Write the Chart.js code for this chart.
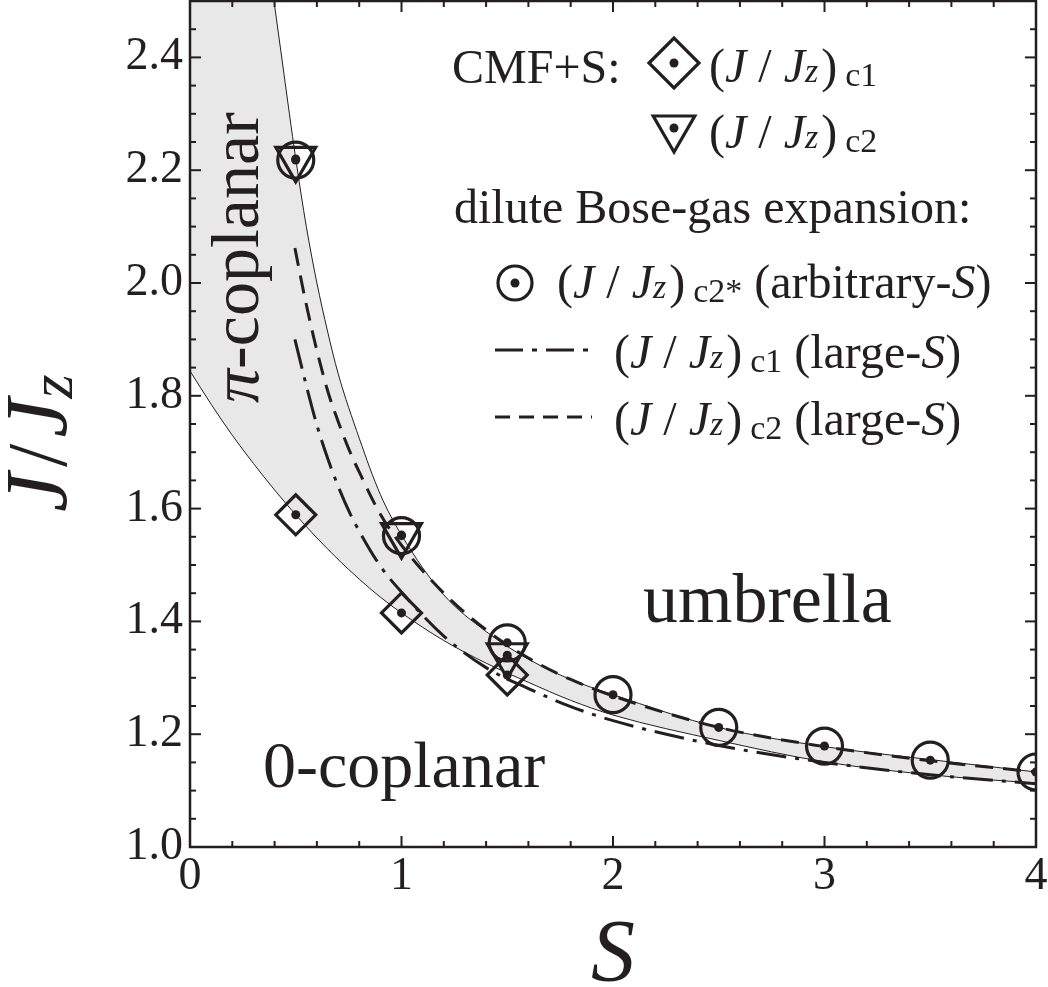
<!DOCTYPE html>
<html>
<head>
<meta charset="utf-8">
<script src="https://cdn.jsdelivr.net/npm/chart.js@4.4.1/dist/chart.umd.min.js"></script>
<style>
  html, body { margin: 0; padding: 0; background: #fff; }
</style>
</head>
<body>
<canvas id="phaseChart" width="1048" height="987"></canvas>
<script>
// --- data ---
// upper edge of the shaded region: (J/Jz)_c2* curve
const sUpper = [0.397, 0.43, 0.47, 0.5, 0.55, 0.6, 0.65, 0.7, 0.8, 0.9, 1.0, 1.2, 1.4, 1.6, 1.8, 2.0, 2.5, 3.0, 3.5, 4.0];
const jUpper = [2.5, 2.41, 2.30, 2.22, 2.10, 2.0, 1.915, 1.84, 1.725, 1.625, 1.553, 1.447, 1.382, 1.333, 1.297, 1.27, 1.212, 1.178, 1.155, 1.133];

// lower edge of the shaded region
const sLower = [0, 0.1, 0.2, 0.3, 0.4, 0.5, 0.6, 0.7, 0.8, 0.9, 1.0, 1.2, 1.4, 1.6, 1.8, 2.0, 2.5, 3.0, 3.5, 4.0];
const jLower = [1.844, 1.785, 1.73, 1.68, 1.633, 1.589, 1.548, 1.51, 1.475, 1.443, 1.415, 1.366, 1.326, 1.292, 1.26, 1.234, 1.189, 1.151, 1.128, 1.113];

// large-S expansion, (J/Jz)_c1 (dash-dot)
const sC1 = [0.496, 0.55, 0.6, 0.65, 0.7, 0.757, 0.8, 0.9, 1.0, 1.2, 1.4, 1.6, 1.8, 2.0, 2.5, 3.0, 3.5, 4.0];
const jC1 = [1.90, 1.818, 1.748, 1.69, 1.64, 1.591, 1.56, 1.498, 1.452, 1.374, 1.318, 1.281, 1.249, 1.224, 1.180, 1.150, 1.128, 1.112];

// large-S expansion, (J/Jz)_c2 (dashed)
const sC2 = [0.496, 0.544, 0.6, 0.654, 0.7, 0.757, 0.8, 0.9, 1.0, 1.2, 1.4, 1.6, 1.8, 2.0, 2.5, 3.0, 3.5, 4.0];
const jC2 = [2.062, 1.972, 1.88, 1.805, 1.755, 1.70, 1.665, 1.59, 1.535, 1.45, 1.385, 1.335, 1.297, 1.268, 1.212, 1.178, 1.153, 1.133];

// CMF+S points
const sCmf = [0.5, 1, 1.5];
const jCmfC1 = [1.589, 1.415, 1.305];
const jCmfC2 = [2.22, 1.553, 1.34];

// dilute Bose-gas expansion, arbitrary S
const sBose = [0.5, 1, 1.5, 2, 2.5, 3, 3.5, 4];
const jBose = [2.218, 1.552, 1.362, 1.27, 1.212, 1.179, 1.154, 1.133];

// axis ticks
const xMajor = [0, 1, 2, 3, 4];
const xMinor = [0.2, 0.4, 0.6, 0.8, 1.2, 1.4, 1.6, 1.8, 2.2, 2.4, 2.6, 2.8, 3.2, 3.4, 3.6, 3.8];
const yMajor = [1.0, 1.2, 1.4, 1.6, 1.8, 2.0, 2.2, 2.4];
const yMinor = [1.05, 1.1, 1.15, 1.25, 1.3, 1.35, 1.45, 1.5, 1.55, 1.65, 1.7, 1.75, 1.85, 1.9, 1.95,
                2.05, 2.1, 2.15, 2.25, 2.3, 2.35, 2.45];

const INK = '#231f20';
const SHADE = '#e8e8e8';
const SERIF = '"Liberation Serif", "DejaVu Serif", serif';
const rom = s => `${s}px ${SERIF}`;
const ita = s => `italic ${s}px ${SERIF}`;

const pts = (xs, ys) => xs.map((x, i) => ({ x: x, y: ys[i] }));

function curve(xs, ys, extra) {
  return Object.assign({
    data: pts(xs, ys),
    showLine: true,
    borderColor: INK,
    borderWidth: 1,
    pointRadius: 0,
    fill: false,
    cubicInterpolationMode: 'monotone'
  }, extra);
}

function markers(xs, ys, extra) {
  return Object.assign({
    data: pts(xs, ys),
    showLine: false,
    pointBorderColor: INK,
    pointBackgroundColor: 'rgba(0,0,0,0)',
    pointBorderWidth: 3.2
  }, extra);
}

// draw a sequence of text pieces with different fonts, left to right
function runs(ctx, parts, x, y) {
  let cx = x;
  parts.forEach(p => {
    if (p.gap) { cx += p.gap; return; }
    ctx.font = p.f;
    ctx.fillText(p.t, cx, y + (p.dy || 0));
    cx += ctx.measureText(p.t).width;
  });
  return cx;
}

function ratio(sub) {
  return [
    { t: '(', f: rom(48) }, { t: 'J', f: ita(48) }, { t: ' / ', f: rom(48) },
    { t: 'J', f: ita(48) }, { t: 'z', f: ita(34) }, { gap: 3 }, { t: ')', f: rom(48) },
    { gap: 8 }, { t: sub, f: rom(34), dy: 4 }
  ];
}

function dot(ctx, x, y) {
  ctx.beginPath();
  ctx.arc(x, y, 4.5, 0, Math.PI * 2);
  ctx.fill();
}

const decor = {
  id: 'decor',
  afterDatasetsDraw(chart) {
    const ctx = chart.ctx;
    const a = chart.chartArea;
    const xs = chart.scales.x, ys = chart.scales.y;
    ctx.save();
    ctx.strokeStyle = INK;
    ctx.fillStyle = INK;

    // inward ticks on all four sides
    const tick = (x1, y1, x2, y2) => { ctx.beginPath(); ctx.moveTo(x1, y1); ctx.lineTo(x2, y2); ctx.stroke(); };
    ctx.lineWidth = 2;
    xMajor.forEach(v => { const p = xs.getPixelForValue(v); tick(p, a.bottom, p, a.bottom - 11); tick(p, a.top, p, a.top + 11); });
    xMinor.forEach(v => { const p = xs.getPixelForValue(v); tick(p, a.bottom, p, a.bottom - 6); tick(p, a.top, p, a.top + 6); });
    yMajor.forEach(v => { const p = ys.getPixelForValue(v); tick(a.left, p, a.left + 11, p); tick(a.right, p, a.right - 11, p); });
    yMinor.forEach(v => { const p = ys.getPixelForValue(v); tick(a.left, p, a.left + 6, p); tick(a.right, p, a.right - 6, p); });

    // frame
    ctx.lineWidth = 2.5;
    ctx.strokeRect(a.left, a.top, a.right - a.left, a.bottom - a.top);

    ctx.textBaseline = 'alphabetic';
    ctx.textAlign = 'left';

    // region labels
    runs(ctx, [{ t: 'umbrella', f: rom(70) }], 643, 622);
    runs(ctx, [{ t: '0-coplanar', f: rom(66) }], 263, 787);
    ctx.save();
    ctx.translate(258, 403);
    ctx.rotate(-Math.PI / 2);
    runs(ctx, [{ t: 'π', f: ita(68) }, { t: '-coplanar', f: rom(68) }], 0, 0);
    ctx.restore();

    // legend
    ctx.lineWidth = 3.2;
    // diamond
    ctx.beginPath();
    ctx.moveTo(674 - 25, 63); ctx.lineTo(674, 63 - 25); ctx.lineTo(674 + 25, 63); ctx.lineTo(674, 63 + 25);
    ctx.closePath(); ctx.stroke();
    dot(ctx, 674, 63);
    runs(ctx, [{ t: 'CMF+S:', f: rom(48) }], 452, 83);
    runs(ctx, ratio('c1'), 709, 82);
    // triangle (pointing down)
    const tr = 24, tx = 674, ty = 128;
    ctx.beginPath();
    ctx.moveTo(tx, ty + tr);
    ctx.lineTo(tx - tr * Math.sqrt(3) / 2, ty - tr / 2);
    ctx.lineTo(tx + tr * Math.sqrt(3) / 2, ty - tr / 2);
    ctx.closePath(); ctx.stroke();
    dot(ctx, tx, ty);
    runs(ctx, ratio('c2'), 709, 148);

    runs(ctx, [{ t: 'dilute Bose-gas expansion:', f: rom(48) }], 454, 223);
    ctx.beginPath(); ctx.arc(515, 283, 17, 0, Math.PI * 2); ctx.stroke();
    dot(ctx, 515, 283);
    runs(ctx, ratio('c2*').concat([{ t: ' (arbitrary-', f: rom(48) }, { t: 'S', f: ita(48) }, { t: ')', f: rom(48) }]), 557, 298);

    ctx.lineWidth = 3;
    ctx.setLineDash([28, 9, 5, 9]);
    tick(495, 350, 592, 350);
    ctx.setLineDash([]);
    runs(ctx, ratio('c1').concat([{ t: ' (large-', f: rom(48) }, { t: 'S', f: ita(48) }, { t: ')', f: rom(48) }]), 614, 368);

    ctx.setLineDash([15, 9]);
    tick(495, 417, 592, 417);
    ctx.setLineDash([]);
    runs(ctx, ratio('c2').concat([{ t: ' (large-', f: rom(48) }, { t: 'S', f: ita(48) }, { t: ')', f: rom(48) }]), 614, 435);

    // axis titles
    ctx.font = ita(88);
    ctx.textAlign = 'center';
    ctx.fillText('S', (a.left + a.right) / 2, 980);
    ctx.textAlign = 'left';
    ctx.save();
    ctx.translate(66, 512);
    ctx.rotate(-Math.PI / 2);
    runs(ctx, [{ t: 'J', f: ita(88) }, { gap: 6 }, { t: '/', f: rom(84) }, { gap: 6 },
               { t: 'J', f: ita(88) }, { t: 'z', f: ita(62), dy: 6 }], 0, 0);
    ctx.restore();

    ctx.restore();
  }
};

new Chart(document.getElementById('phaseChart'), {
  type: 'line',
  data: {
    datasets: [
      // shaded band: grey above the lower edge, then white above the upper edge
      curve(sLower, jLower, { fill: 'end', backgroundColor: SHADE, order: 10 }),
      curve(sUpper, jUpper, { fill: 'end', backgroundColor: '#ffffff', order: 9 }),
      curve(sC1, jC1, { borderWidth: 3, borderDash: [30, 9, 4, 9], order: 5 }),
      curve(sC2, jC2, { borderWidth: 3, borderDash: [18, 10], order: 5 }),
      markers(sCmf, jCmfC1, { pointStyle: 'rectRot', pointRadius: 20, order: 2 }),
      markers(sCmf, jCmfC2, { pointStyle: 'triangle', pointRotation: 180, pointRadius: 23, order: 2 }),
      markers(sBose, jBose, { pointStyle: 'circle', pointRadius: 18, order: 2 }),
      markers(sCmf, jCmfC1, { pointRadius: 4.5, pointBorderWidth: 0, pointBackgroundColor: INK, order: 1 }),
      markers(sCmf, jCmfC2, { pointRadius: 4.5, pointBorderWidth: 0, pointBackgroundColor: INK, order: 1 }),
      markers(sBose, jBose, { pointRadius: 4.5, pointBorderWidth: 0, pointBackgroundColor: INK, order: 1 })
    ]
  },
  options: {
    responsive: false,
    animation: false,
    events: [],
    layout: { autoPadding: false, padding: { top: 1, right: 12, left: 0, bottom: 0 } },
    plugins: { legend: { display: false }, tooltip: { enabled: false } },
    scales: {
      x: {
        type: 'linear',
        min: 0, max: 4,
        grid: { display: false, drawTicks: false },
        border: { display: false },
        afterBuildTicks: s => { s.ticks = xMajor.map(v => ({ value: v })); },
        afterFit: s => { s.height = 140; s.paddingLeft = 0; s.paddingRight = 0; },
        ticks: {
          color: INK, padding: 2, maxRotation: 0,
          font: { family: 'Liberation Serif', size: 46 },
          callback: v => String(v)
        }
      },
      y: {
        type: 'linear',
        min: 1.0, max: 2.5,
        grid: { display: false, drawTicks: false },
        border: { display: false },
        afterBuildTicks: s => { s.ticks = yMajor.map(v => ({ value: v })); },
        afterFit: s => { s.width = 190; s.paddingTop = 0; s.paddingBottom = 0; },
        ticks: {
          color: INK, padding: 7,
          font: { family: 'Liberation Serif', size: 46 },
          callback: v => v.toFixed(1)
        }
      }
    }
  },
  plugins: [decor]
});
</script>
</body>
</html>
